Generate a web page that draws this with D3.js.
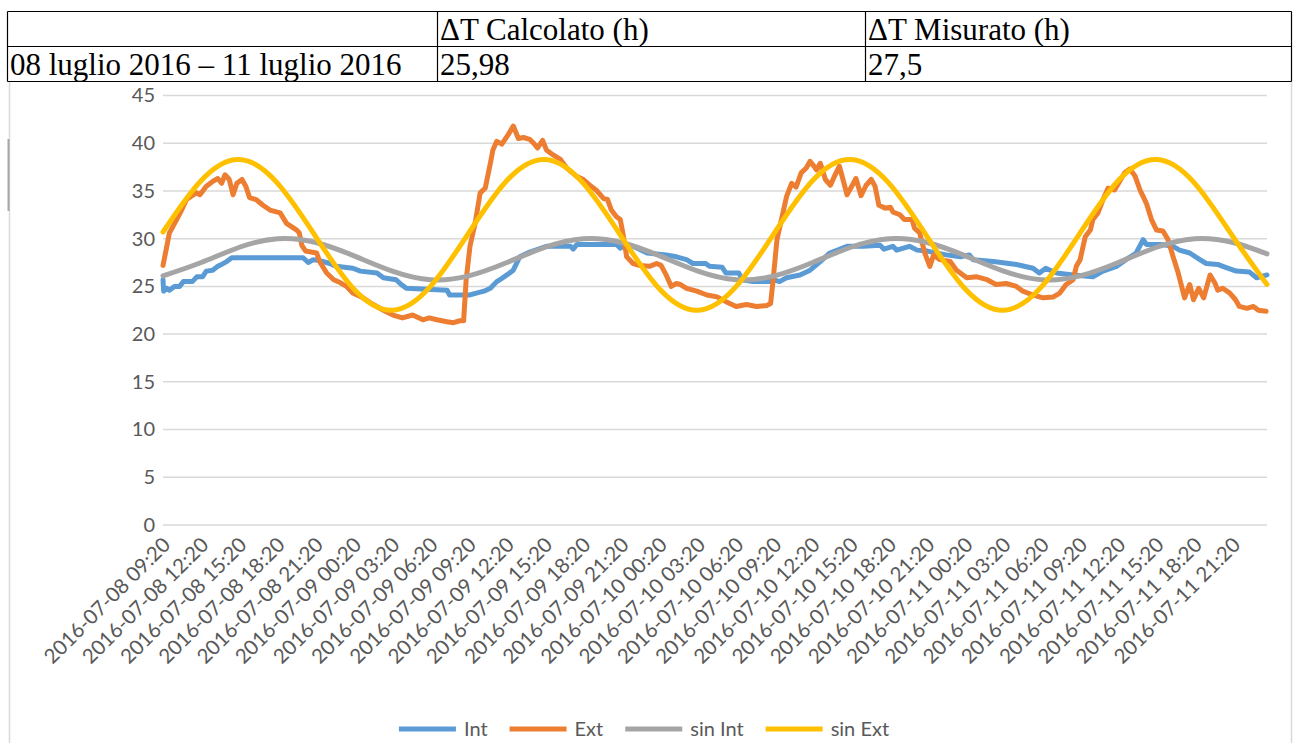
<!DOCTYPE html>
<html>
<head>
<meta charset="utf-8">
<script src="https://cdn.jsdelivr.net/npm/d3@7"></script>
<style>
  body { margin: 0; background: #fff; }
</style>
</head>
<body>
<div id="container"></div>
<script>
// Table on top of the chart
const tableHeader = ["", "\u0394T Calcolato (h)", "\u0394T Misurato (h)"];
const tableRow = ["08 luglio 2016 \u2013 11 luglio 2016", "25,98", "27,5"];

// Series names and colours (Excel default palette)
const seriesNames = ["Int", "Ext", "sin Int", "sin Ext"];
const seriesColors = ["#5b9bd5", "#ed7d31", "#a5a5a5", "#ffc000"];

// y ticks and x tick labels (category labels every 3 hours)
const yTicks = [0, 5, 10, 15, 20, 25, 30, 35, 40, 45];
const tickLabels = [
  "2016-07-08 09:20", "2016-07-08 12:20", "2016-07-08 15:20", "2016-07-08 18:20", "2016-07-08 21:20",
  "2016-07-09 00:20", "2016-07-09 03:20", "2016-07-09 06:20", "2016-07-09 09:20", "2016-07-09 12:20",
  "2016-07-09 15:20", "2016-07-09 18:20", "2016-07-09 21:20", "2016-07-10 00:20", "2016-07-10 03:20",
  "2016-07-10 06:20", "2016-07-10 09:20", "2016-07-10 12:20", "2016-07-10 15:20", "2016-07-10 18:20",
  "2016-07-10 21:20", "2016-07-11 00:20", "2016-07-11 03:20", "2016-07-11 06:20", "2016-07-11 09:20",
  "2016-07-11 12:20", "2016-07-11 15:20", "2016-07-11 18:20", "2016-07-11 21:20"
];

// Data: [hours since 2016-07-08 09:20, temperature]
const intData = [
  [0,25.7],[0.05,24.5],[0.3,24.8],[0.5,24.6],[0.9,25.0],[1.3,25.0],[1.6,25.5],[2.3,25.5],[2.65,26.0],
  [3.1,26.0],[3.4,26.6],[3.9,26.7],[4.3,27.1],[4.6,27.3],[5.0,27.6],[5.4,28.0],[11.0,28.0],[11.4,27.5],
  [11.8,27.8],[12.3,27.7],[13.1,27.4],[13.6,27.1],[14.9,26.9],[15.5,26.6],[16.8,26.4],[17.3,25.9],
  [18.3,25.7],[18.7,25.2],[19.1,24.8],[22.3,24.6],[22.5,24.1],[24.1,24.1],[24.6,24.3],[25.2,24.5],
  [25.7,24.8],[26.2,25.5],[26.45,25.7],[27.0,26.2],[27.5,26.7],[28.0,28.1],[28.8,28.6],[30.1,29.2],
  [32.0,29.2],[32.2,28.9],[32.5,29.4],[35.6,29.4],[35.9,29.0],[36.2,29.3],[36.9,29.2],[38.0,28.5],
  [39.5,28.3],[40.3,28.1],[41.1,27.8],[41.6,27.4],[42.6,27.4],[42.9,27.1],[43.9,27.0],[44.2,26.4],
  [45.2,26.4],[45.5,25.7],[46.3,25.5],[47.6,25.5],[47.9,25.7],[48.4,25.5],[48.95,25.9],[50.0,26.2],
  [50.8,26.7],[51.6,27.6],[52.35,28.5],[53.7,29.2],[55.0,29.2],[56.3,29.3],[56.6,28.9],[57.3,29.2],
  [57.6,28.8],[58.6,29.2],[59.2,28.8],[60.0,28.7],[60.7,28.5],[61.5,28.3],[62.6,28.1],[63.3,28.3],
  [63.6,27.8],[65.2,27.6],[67.0,27.3],[68.3,26.9],[68.8,26.4],[69.3,26.9],[70.15,26.4],[71.45,26.2],
  [73.0,26.0],[73.8,26.6],[74.85,27.1],[75.6,27.8],[76.4,28.5],[76.95,29.9],[77.2,29.4],[78.3,29.4],
  [79.3,29.2],[79.8,28.8],[80.6,28.5],[81.4,27.8],[81.9,27.4],[82.8,27.3],[83.2,27.1],[84.25,26.6],
  [85.3,26.5],[85.85,25.9],[86.67,26.2]
];
const extData = [
  [0,27.2],[0.3,29.2],[0.5,30.6],[1.07,32.0],[1.46,33.0],[1.85,34.1],[2.6,34.8],[2.9,34.6],[3.4,35.5],
  [3.9,36.0],[4.3,36.3],[4.6,35.8],[4.87,36.7],[5.2,36.2],[5.5,34.6],[5.8,35.8],[6.2,36.2],[6.5,35.5],
  [6.8,34.3],[7.3,34.1],[7.85,33.5],[8.4,33.0],[9.2,32.7],[9.7,31.6],[10.5,30.9],[10.7,30.6],[10.9,29.3],
  [11.2,28.7],[12.06,28.5],[12.3,27.6],[12.85,26.4],[13.4,25.7],[13.9,25.4],[14.4,25.0],[14.9,24.3],
  [15.7,23.8],[16.5,23.1],[17.3,22.5],[18.05,22.0],[18.8,21.7],[19.6,22.0],[20.4,21.5],[20.9,21.7],
  [21.5,21.5],[22.3,21.3],[22.8,21.2],[23.3,21.4],[23.6,21.4],[23.8,25.7],[24.1,29.2],[24.5,31.6],
  [24.9,34.8],[25.3,35.3],[25.7,37.9],[25.9,39.3],[26.2,40.2],[26.6,39.9],[27.1,40.9],[27.5,41.8],
  [27.9,40.5],[28.3,40.6],[28.8,40.4],[29.1,40.0],[29.4,39.5],[29.8,40.3],[30.1,39.3],[30.6,38.8],
  [31.2,38.3],[31.7,37.4],[32.5,36.5],[33.0,36.2],[33.5,35.6],[34.0,35.1],[34.6,34.2],[34.9,34.1],
  [35.2,33.0],[35.6,32.3],[35.9,32.0],[36.1,30.6],[36.4,28.1],[36.9,27.4],[37.4,27.2],[38.2,27.1],
  [38.75,27.4],[39.1,27.2],[39.5,26.2],[39.9,25.0],[40.3,25.3],[40.6,25.2],[41.1,24.8],[41.9,24.5],
  [42.7,24.1],[43.5,23.9],[44.2,23.4],[45.0,22.9],[45.8,23.1],[46.6,22.9],[47.4,23.0],[47.7,23.2],
  [47.9,25.7],[48.2,29.9],[48.6,32.3],[48.95,34.4],[49.35,35.8],[49.7,35.4],[50.1,36.9],[50.5,37.4],
  [50.8,38.1],[51.1,37.6],[51.3,37.2],[51.6,37.9],[52.0,36.2],[52.4,35.6],[52.7,36.5],[53.1,37.6],
  [53.7,34.6],[54.2,35.8],[54.4,36.3],[54.8,34.5],[55.2,35.6],[55.6,36.2],[55.9,35.5],[56.2,33.5],
  [56.7,33.2],[57.1,33.3],[57.3,32.8],[57.85,32.5],[58.2,32.0],[58.8,32.0],[59.0,31.1],[59.4,30.6],
  [59.8,28.5],[60.2,27.1],[60.5,28.3],[61.0,27.8],[61.8,27.6],[62.3,26.7],[63.1,25.9],[63.9,26.0],
  [64.7,25.7],[65.4,25.2],[66.2,25.3],[67.0,25.0],[67.5,24.5],[68.3,24.1],[69.1,23.8],[69.9,23.9],
  [70.4,24.3],[70.9,25.2],[71.45,25.7],[71.7,27.1],[72.0,27.8],[72.4,30.2],[72.8,30.9],[73.0,32.0],
  [73.4,32.7],[73.8,34.1],[74.2,35.3],[74.7,35.1],[75.1,36.0],[75.5,36.9],[75.9,37.3],[76.3,36.6],
  [76.7,35.1],[76.95,34.4],[77.2,33.7],[77.6,32.0],[78.0,30.9],[78.5,30.8],[78.9,29.9],[79.3,28.1],
  [79.7,26.4],[80.2,23.8],[80.6,25.2],[80.9,23.6],[81.3,24.8],[81.7,23.8],[82.2,26.2],[82.6,25.3],
  [82.8,24.6],[83.2,24.8],[83.75,24.3],[84.2,23.6],[84.5,22.9],[85.1,22.7],[85.6,22.9],[86.0,22.5],
  [86.6,22.4]
];
const sinIntData = [
  [0,26.1],[3,27.5],[6,29.1],[9,30.0],[12,29.6],[15,28.2],[18,26.6],[21,25.7],[24,26.1],[27,27.5],
  [30,29.1],[33,30.0],[36,29.6],[39,28.2],[42,26.6],[45,25.7],[48,26.1],[51,27.5],[54,29.1],[57,30.0],
  [60,29.6],[63,28.2],[66,26.6],[69,25.7],[72,26.1],[75,27.5],[78,29.1],[81,30.0],[84,29.6],[86.67,28.4]
];
const sinExtData = [
  [0,30.7],[3,36.1],[6,38.3],[9,35.8],[12,30.2],[15,24.7],[18,22.5],[21,25.0],[24,30.6],[27,36.1],
  [30,38.3],[33,35.8],[36,30.2],[39,24.7],[42,22.5],[45,25.0],[48,30.6],[51,36.1],[54,38.3],[57,35.8],
  [60,30.2],[63,24.7],[66,22.5],[69,25.0],[72,30.6],[75,36.1],[78,38.3],[81,35.8],[84,30.2],[86.67,25.2]
];

const width = 1293;
const height = 743;
const marginLeft = 163;
const marginRight = 26;
const plotTop = 95.5;
const plotBottom = 525;

const parseTime = d3.utcParse("%Y-%m-%d %H:%M");
const start = parseTime(tickLabels[0]);
const toDate = h => new Date(start.getTime() + h * 3600 * 1000);

const x = d3.scaleUtc()
    .domain([start, toDate(86.67)])
    .range([marginLeft, width - marginRight]);

const y = d3.scaleLinear()
    .domain([0, 45])
    .range([plotBottom, plotTop]);

const svg = d3.select("#container").append("svg")
    .attr("width", width)
    .attr("height", height)
    .attr("viewBox", [0, 0, width, height]);

// chart area border
svg.append("line").attr("x1", 9.5).attr("x2", 9.5).attr("y1", 82).attr("y2", height)
    .attr("stroke", "#d9d9d9").attr("stroke-width", 1.5);
svg.append("line").attr("x1", 1291.5).attr("x2", 1291.5).attr("y1", 82).attr("y2", height)
    .attr("stroke", "#d9d9d9").attr("stroke-width", 1.5);
svg.append("line").attr("x1", 8.5).attr("x2", 8.5).attr("y1", 139).attr("y2", 211)
    .attr("stroke", "#a6a6a6").attr("stroke-width", 2);

// Table
const colX = [7.5, 437.5, 865.5, 1291.5];
const rowY = [11.5, 46.5, 81.5];
const table = svg.append("g").attr("stroke", "#000").attr("stroke-width", 1.2);
rowY.forEach(yy => table.append("line").attr("x1", colX[0]).attr("x2", colX[3]).attr("y1", yy).attr("y2", yy));
colX.forEach(xx => table.append("line").attr("x1", xx).attr("x2", xx).attr("y1", rowY[0]).attr("y2", rowY[2]));

const tableText = svg.append("g")
    .style("font-family", "'Liberation Serif', 'Times New Roman', serif")
    .style("font-size", "31px")
    .attr("fill", "#000");
[tableHeader, tableRow].forEach((row, r) => {
  row.forEach((t, c) => {
    tableText.append("text")
        .attr("x", colX[c] + 2.5)
        .attr("y", rowY[r + 1] - 7)
        .text(t);
  });
});

// Gridlines
svg.append("g")
  .selectAll("line")
  .data(yTicks)
  .join("line")
    .attr("x1", marginLeft)
    .attr("x2", width - marginRight)
    .attr("y1", d => y(d))
    .attr("y2", d => y(d))
    .attr("stroke", "#d9d9d9")
    .attr("stroke-width", 1.5);

const labelFont = "Lato, 'Open Sans', sans-serif";

// Y axis
svg.append("g")
    .attr("transform", `translate(${marginLeft},0)`)
    .call(d3.axisLeft(y).tickValues(yTicks).tickSize(0).tickPadding(8))
    .call(g => g.select(".domain").remove())
    .call(g => g.selectAll("text")
        .attr("fill", "#595959")
        .style("font-family", labelFont)
        .style("font-size", "20px"));

// X axis with rotated labels
const fmt = d3.utcFormat("%Y-%m-%d %H:%M");
svg.append("g")
    .attr("transform", `translate(0,${plotBottom})`)
    .call(d3.axisBottom(x).tickValues(tickLabels.map(parseTime)).tickFormat(fmt).tickSize(0))
    .call(g => g.select(".domain").remove())
    .call(g => g.selectAll("text")
        .attr("fill", "#595959")
        .style("font-family", labelFont)
        .style("font-size", "20.5px")
        .attr("text-anchor", "end")
        .attr("x", 0)
        .attr("y", 0)
        .attr("dy", "0.35em")
        .attr("transform", "translate(3,16) rotate(-45)"));

// Lines
const line = d3.line()
    .x(d => x(toDate(d[0])))
    .y(d => y(d[1]));
const smooth = d3.line()
    .x(d => x(toDate(d[0])))
    .y(d => y(d[1]))
    .curve(d3.curveNatural);

const series = [
  { data: intData, gen: line },
  { data: extData, gen: line },
  { data: sinIntData, gen: smooth },
  { data: sinExtData, gen: smooth }
];
series.forEach((s, i) => {
  svg.append("path")
      .datum(s.data)
      .attr("fill", "none")
      .attr("stroke", seriesColors[i])
      .attr("stroke-width", 5)
      .attr("stroke-linejoin", "round")
      .attr("stroke-linecap", "round")
      .attr("d", s.gen);
});

// Legend
const legend = svg.append("g");
const items = legend.selectAll("g")
  .data(seriesNames)
  .join("g");
items.append("line")
    .attr("x1", 0).attr("x2", 57)
    .attr("stroke", (d, i) => seriesColors[i])
    .attr("stroke-width", 5);
items.append("text")
    .attr("x", 65)
    .attr("dy", "0.35em")
    .attr("fill", "#595959")
    .style("font-family", labelFont)
    .style("font-size", "20px")
    .text(d => d);
const widths = [];
items.each(function() {
  widths.push(65 + this.querySelector("text").getComputedTextLength());
});
const total = d3.sum(widths) + 22 * (widths.length - 1);
let lx = 644 - total / 2;
items.attr("transform", (d, i) => {
  const t = `translate(${lx},729)`;
  lx += widths[i] + 22;
  return t;
});
</script>
</body>
</html>
